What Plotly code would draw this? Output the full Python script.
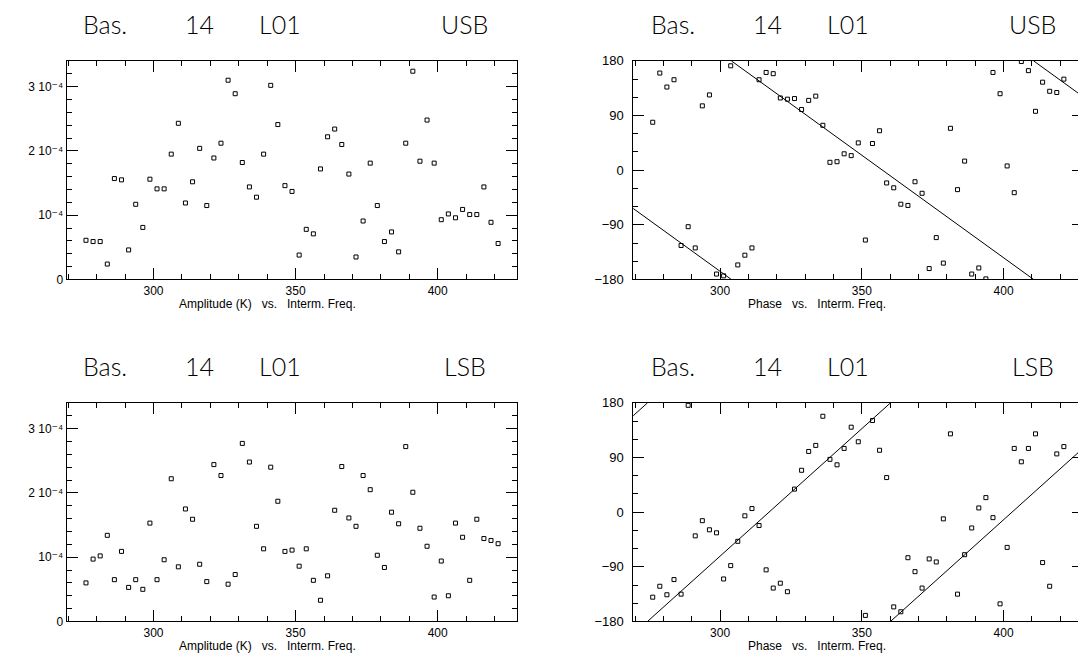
import plotly.graph_objects as go

# Intermediate frequency channels (MHz)
freq = [276.25, 278.75, 281.25, 283.75, 286.25, 288.75, 291.25, 293.75, 296.25, 298.75,
        301.25, 303.75, 306.25, 308.75, 311.25, 313.75, 316.25, 318.75, 321.25, 323.75,
        326.25, 328.75, 331.25, 333.75, 336.25, 338.75, 341.25, 343.75, 346.25, 348.75,
        351.25, 353.75, 356.25, 358.75, 361.25, 363.75, 366.25, 368.75, 371.25, 373.75,
        376.25, 378.75, 381.25, 383.75, 386.25, 388.75, 391.25, 393.75, 396.25, 398.75,
        401.25, 403.75, 406.25, 408.75, 411.25, 413.75, 416.25, 418.75, 421.25]

AMP_UNIT = 1e-4
# Amplitudes in units of 1e-4 K
amp_usb = [0.61, 0.59, 0.59, 0.24, 1.57, 1.55, 0.46, 1.17, 0.81, 1.56,
           1.41, 1.41, 1.95, 2.43, 1.19, 1.52, 2.04, 1.15, 1.89, 2.12,
           3.10, 2.89, 1.82, 1.44, 1.28, 1.95, 3.02, 2.41, 1.46, 1.37,
           0.38, 0.78, 0.71, 1.72, 2.22, 2.34, 2.10, 1.64, 0.35, 0.91,
           1.81, 1.15, 0.59, 0.74, 0.43, 2.12, 3.24, 1.84, 2.48, 1.81,
           0.93, 1.02, 0.96, 1.09, 1.01, 1.01, 1.44, 0.89, 0.56]
amp_lsb = [0.60, 0.97, 1.02, 1.34, 0.65, 1.09, 0.53, 0.65, 0.50, 1.53,
           0.65, 0.96, 2.22, 0.85, 1.75, 1.59, 0.89, 0.62, 2.44, 2.27,
           0.58, 0.73, 2.77, 2.48, 1.48, 1.13, 2.40, 1.87, 1.09, 1.11,
           0.86, 1.13, 0.64, 0.33, 0.71, 1.73, 2.41, 1.61, 1.48, 2.27,
           2.05, 1.03, 0.84, 1.70, 1.52, 2.72, 2.01, 1.45, 1.17, 0.38,
           0.94, 0.40, 1.53, 1.31, 0.64, 1.59, 1.29, 1.26, 1.21]
# Phases in degrees
phase_usb = [79, 160, 137, 149, -124, -93, -128, 106, 124, -171,
             -174, 172, -156, -140, -128, 149, 161, 159, 119, 117,
             118, 100, 115, 122, 74, 13, 14, 27, 24, 45,
             -115, 44, 65, -21, -29, -56, -58, -19, -38, -162,
             -111, -153, 69, -32, 15, -171, -161, -179, 161, 126,
             7, -37, 179, 164, 97, 145, 130, 128, 150]
phase_lsb = [-140, -122, -136, -111, -135, 176, -39, -14, -29, -34,
             -110, -88, -48, -6, 6, -22, -95, -125, -117, -131,
             38, 69, 100, 110, 158, 87, 78, 105, 140, 116,
             -170, 151, 102, 57, -156, -164, -75, -98, -125, -77,
             -82, -11, 129, -135, -70, -26, 7, 24, -9, -151,
             -58, 105, 83, 105, 129, -83, -122, 96, 108]

# Fitted phase slope (wrapped segments)
fit_usb_x = [265.0, 304.0, None, 304.0, 410.6, None, 410.6, 432.0]
fit_usb_y = [-48.3, -180, None, 180, -180, None, 180, 107.7]
fit_lsb_x = [265.0, 274.4, None, 274.4, 360.1, None, 360.1, 432.0]
fit_lsb_y = [140.5, 180, None, -180, 180, None, -180, 122.0]

amp_ticks = [0, 1e-4, 2e-4, 3e-4]
amp_ticktext = ["0", "10\u207b\u2074", "2 10\u207b\u2074", "3 10\u207b\u2074"]
phase_ticks = [-180, -90, 0, 90, 180]

title_words = ["Bas.", "14", "L01"]

# The page body has an 8 px margin; lay out in window pixels and convert.
OFF = 8
W, H = 1078, 654


def px(X):
    return (X - OFF) / W


def py(Y):
    return 1 - (Y - OFF) / H


xl = [px(66.5), px(517.3)]
xr = [px(633.3), px(1083.0)]
yt = [py(278.7), py(55.0)]
yb = [py(628.7), py(405.0)]

fig = go.Figure()
mk = dict(symbol="square-open", size=4, color="black", line=dict(width=1, color="black"))


def pts(x, y, xa, ya):
    fig.add_trace(go.Scatter(x=x, y=y, mode="markers", marker=mk, xaxis=xa, yaxis=ya,
                             showlegend=False, hoverinfo="x+y"))


def line(x, y, xa, ya):
    fig.add_trace(go.Scatter(x=x, y=y, mode="lines", line=dict(color="black", width=1),
                             xaxis=xa, yaxis=ya, showlegend=False, hoverinfo="skip",
                             connectgaps=False))


pts(freq, [v * AMP_UNIT for v in amp_usb], "x", "y")
pts(freq, phase_usb, "x2", "y2")
line(fit_usb_x, fit_usb_y, "x2", "y2")
pts(freq, [v * AMP_UNIT for v in amp_lsb], "x3", "y3")
pts(freq, phase_lsb, "x4", "y4")
line(fit_lsb_x, fit_lsb_y, "x4", "y4")

tickfont = dict(family="Liberation Sans, DejaVu Sans, Arial, sans-serif", size=12, color="black")


def xaxis(dom, anchor):
    return dict(domain=dom, anchor=anchor, range=[269.4, 428.0], tick0=300, dtick=50,
                ticks="inside", ticklen=11, tickcolor="black", tickwidth=1,
                minor=dict(ticks="inside", dtick=10, ticklen=5, tickcolor="black", tickwidth=1),
                showline=True, linecolor="black", linewidth=1, mirror="ticks",
                showgrid=False, zeroline=False, tickfont=tickfont)


def yaxis_amp(dom, anchor):
    return dict(domain=dom, anchor=anchor, range=[0, 3.4e-4], tickvals=amp_ticks,
                ticktext=amp_ticktext,
                ticks="inside", ticklen=11, tickcolor="black", tickwidth=1,
                minor=dict(ticks="inside", dtick=0.2e-4, ticklen=5, tickcolor="black", tickwidth=1),
                showline=True, linecolor="black", linewidth=1, mirror="ticks",
                showgrid=False, zeroline=False, tickfont=tickfont)


def yaxis_ph(dom, anchor):
    return dict(domain=dom, anchor=anchor, range=[-180, 180], tickvals=phase_ticks,
                ticks="inside", ticklen=11, tickcolor="black", tickwidth=1,
                minor=dict(ticks="inside", dtick=30, ticklen=5, tickcolor="black", tickwidth=1),
                showline=True, linecolor="black", linewidth=1, mirror="ticks",
                showgrid=False, zeroline=False, tickfont=dict(tickfont, size=13),
                ticklabelstandoff=6)


fig.update_layout(
    width=W, height=H, margin=dict(l=0, r=0, t=0, b=0),
    paper_bgcolor="white", plot_bgcolor="white",
    xaxis=xaxis(xl, "y"), yaxis=yaxis_amp(yt, "x"),
    xaxis2=xaxis(xr, "y2"), yaxis2=yaxis_ph(yt, "x2"),
    xaxis3=xaxis(xl, "y3"), yaxis3=yaxis_amp(yb, "x3"),
    xaxis4=xaxis(xr, "y4"), yaxis4=yaxis_ph(yb, "x4"),
)

titlefont = dict(family="Lato, Roboto, DejaVu Sans, sans-serif", size=25, color="black",
                 weight=300)
labfont = dict(family="Liberation Sans, Arial, sans-serif", size=12, color="black")

# word centres (window px) for the left panels; right panels are shifted by 568 px
word_cx = [105, 199, 280]
side_cx = 464.5
ann = []
for dx, ytop, side, xlab, xlabc in [
        (0, 18.5, "USB", "Amplitude (K)  vs.  Interm. Freq.", 267),
        (568, 18.5, "USB", "Phase  vs.  Interm. Freq.", 817),
        (0, 368.5, "LSB", "Amplitude (K)  vs.  Interm. Freq.", 267),
        (568, 368.5, "LSB", "Phase  vs.  Interm. Freq.", 817)]:
    for w, cx in zip(title_words + [side], word_cx + [side_cx]):
        ann.append(dict(text=w, x=px(cx + dx), y=py(ytop - 1), xref="paper", yref="paper",
                        xanchor="center", yanchor="middle", showarrow=False, font=titlefont))
    ann.append(dict(text=xlab.replace("  ", "\u00a0\u00a0\u00a0"), x=px(xlabc),
                    y=py(ytop + 285), xref="paper", yref="paper",
                    xanchor="center", yanchor="middle", showarrow=False, font=labfont))
fig.update_layout(annotations=ann)

fig.write_html("out.html")
